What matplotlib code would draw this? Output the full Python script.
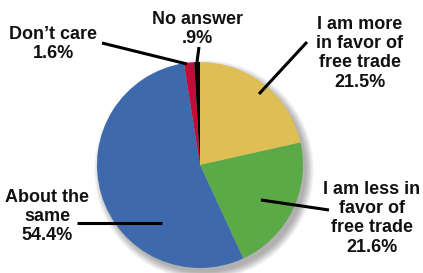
import matplotlib
matplotlib.use("Agg")
import matplotlib.pyplot as plt
from matplotlib.patches import Circle

labels = ["I am more\nin favor of\nfree trade\n21.5%",
          "I am less in\nfavor of\nfree trade\n21.6%",
          "About the\nsame\n54.4%",
          "Don\u2019t care\n1.6%",
          "No answer\n.9%"]
values = [21.5, 21.6, 54.4, 1.6, 0.9]
colors = ["#DDBF55", "#5CA947", "#3E69AD", "#C20C3A", "#000000"]

W, H = 423, 273
fig = plt.figure(figsize=(W / 100, H / 100), dpi=100)
ax = fig.add_axes([0, 0, 1, 1])

cx, cy, r = 200, H - 165, 103

# soft shadow
for i in range(14):
    rr = r + 7 - i * 0.6
    ax.add_patch(Circle((cx + 4, cy - 5), rr, color="black", alpha=0.025,
                        lw=0, zorder=1))

ax.pie(values, colors=colors, startangle=90, counterclock=False,
       center=(cx, cy), radius=r, frame=True,
       wedgeprops=dict(linewidth=0, zorder=2))
ax.set_xlim(0, W)
ax.set_ylim(0, H)
ax.set_aspect("equal")
ax.axis("off")

font = dict(family=["Liberation Sans", "DejaVu Sans"], fontweight="bold",
            fontsize=13, color="#111111", ha="center", va="top",
            linespacing=1.17)

# block top positions (pixel coords from top)
text_pos = [(360, 16), (372, 181), (47, 189), (53, 26), (197, 11)]
for lab, (x, y) in zip(labels, text_pos):
    ax.text(x, H - y, lab, **font, zorder=5)

leaders = [((307, 42), (259, 94)),
           ((329, 210), (261, 200)),
           ((77, 223), (162, 223)),
           ((102, 43), (187, 64)),
           ((199, 47), (197, 62))]
for (x1, y1), (x2, y2) in leaders:
    ax.plot([x1, x2], [H - y1, H - y2], color="black", lw=2.2,
            solid_capstyle="butt", zorder=4)

fig.savefig("out.png", dpi=100)
